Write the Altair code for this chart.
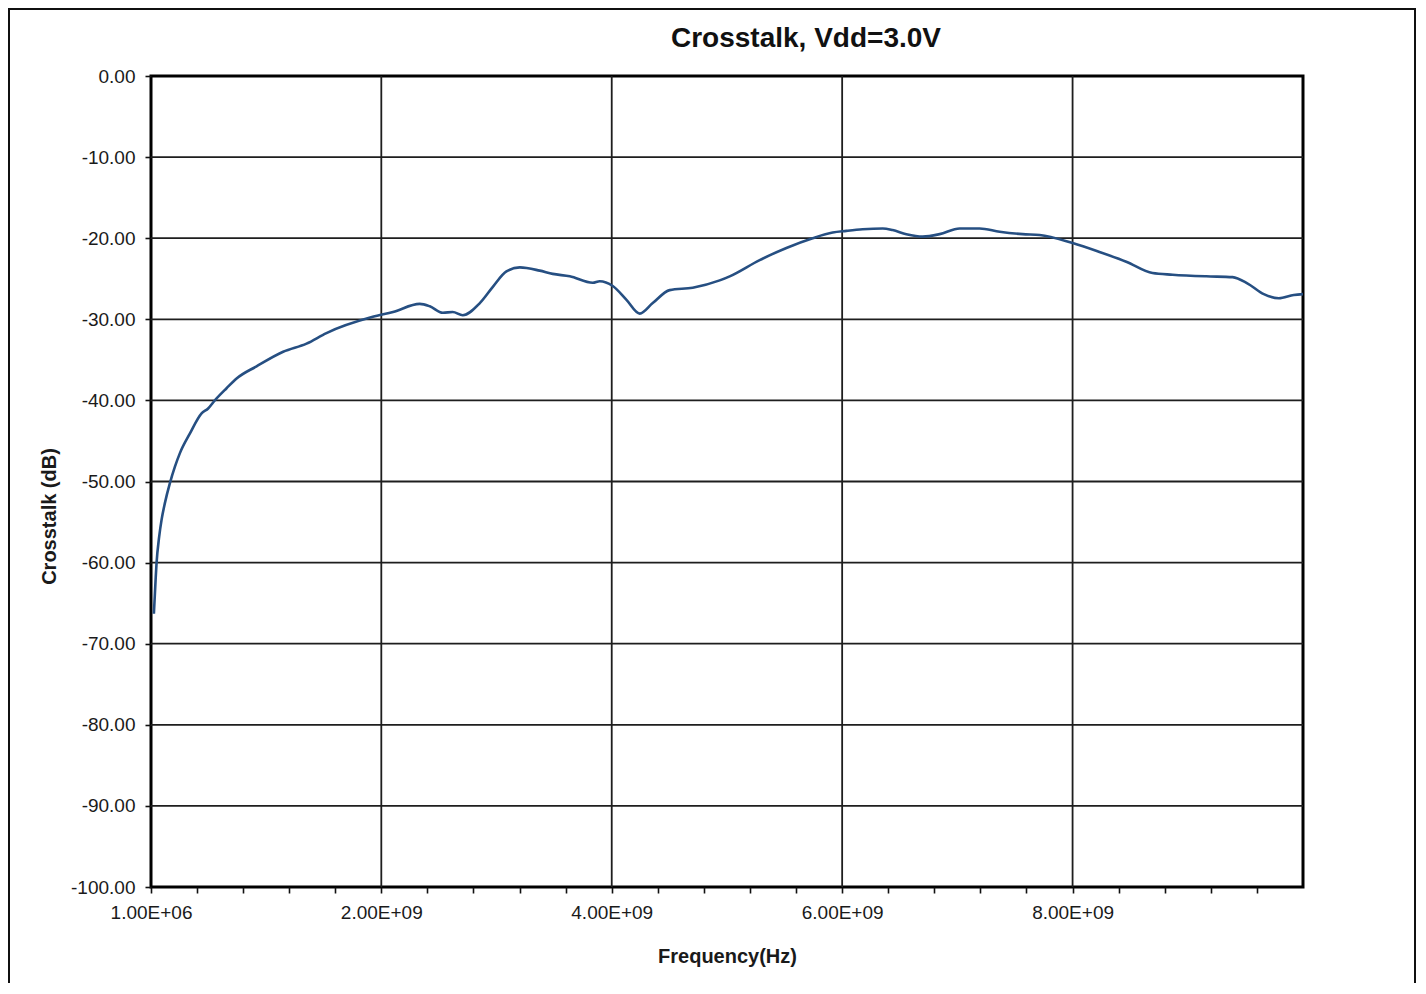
import altair as alt
import pandas as pd

# ---- data ----
freq_ghz = [0.026, 0.041, 0.049, 0.072, 0.093, 0.121, 0.165, 0.208, 0.252, 0.338,
            0.44, 0.497, 0.555, 0.657, 0.744, 0.917, 1.148, 1.351, 1.524, 1.926,
            2.102, 2.334, 2.421, 2.534, 2.62, 2.707, 2.855, 2.968, 3.086, 3.202,
            3.375, 3.488, 3.636, 3.835, 3.896, 4.009, 4.128, 4.243, 4.356, 4.503,
            4.703, 4.937, 5.024, 5.284, 5.516, 5.744, 5.918, 6.036, 6.178, 6.352,
            6.438, 6.557, 6.699, 6.846, 7.02, 7.193, 7.367, 7.566, 7.714, 8.0,
            8.234, 8.466, 8.694, 8.868, 9.16, 9.389, 9.52, 9.66, 9.79, 9.92, 10.0]
crosstalk_db = [-66.3, -62.1, -60.1, -56.8, -54.7, -52.7, -50.2, -48.2, -46.5, -44.1,
                -41.6, -41.0, -40.0, -38.5, -37.3, -35.8, -34.0, -33.0, -31.7, -29.7,
                -29.1, -28.1, -28.4, -29.2, -29.1, -29.5, -28.0, -26.0, -24.1, -23.6,
                -24.0, -24.4, -24.7, -25.5, -25.3, -25.9, -27.6, -29.3, -28.0, -26.4,
                -26.1, -25.2, -24.7, -22.7, -21.2, -20.0, -19.3, -19.1, -18.9, -18.8,
                -19.0, -19.5, -19.8, -19.5, -18.8, -18.8, -19.2, -19.5, -19.6, -20.6,
                -21.7, -22.9, -24.3, -24.5, -24.7, -24.8, -25.6, -26.9, -27.4, -27.0, -26.9]

x_label_values = [1e6, 2e9, 4e9, 6e9, 8e9]
x_labels = ["1.00E+06", "2.00E+09", "4.00E+09", "6.00E+09", "8.00E+09"]
x_tick_values = [1e6] + [k * 4e8 for k in range(1, 25)]
x_grid_values = [2e9, 4e9, 6e9, 8e9]
y_tick_values = [0, -10, -20, -30, -40, -50, -60, -70, -80, -90, -100]
y_grid_values = [-10, -20, -30, -40, -50, -60, -70, -80, -90]

df = pd.DataFrame({"freq": [f * 1e9 for f in freq_ghz], "db": crosstalk_db})
xgrid_df = pd.DataFrame({"freq": x_grid_values})
ygrid_df = pd.DataFrame({"db": y_grid_values})

x_scale = alt.Scale(domain=[1e6, 1e10], nice=False, zero=False)
y_scale = alt.Scale(domain=[-100, 0], nice=False)

label_expr = ""
for v, lab in zip(x_label_values, x_labels):
    label_expr += f"datum.value == {int(v)} ? '{lab}' : "
label_expr += "''"

FONT = "Liberation Sans"
TXT = "#1a1a1a"

x_axis = alt.Axis(
    values=x_tick_values, labelExpr=label_expr, grid=False, domain=False,
    tickColor="#111", tickWidth=1.6, tickSize=6, labelPadding=10,
    labelFont=FONT, labelFontSize=19, labelColor=TXT, labelOverlap=False,
    labelFlush=False,
    title="Frequency(Hz)", titleFont=FONT, titleFontSize=20, titleFontWeight="bold",
    titleColor=TXT, titleY=75, titleBaseline="alphabetic", titleAnchor="middle",
)
y_axis = alt.Axis(
    values=y_tick_values,
    labelExpr="replace(format(datum.value, '.2f'), '\u2212', '-')",
    grid=False, domain=False, tickColor="#111", tickWidth=1.6, tickSize=6,
    labelPadding=10, labelFont=FONT, labelFontSize=19, labelColor=TXT,
    labelOverlap=False, labelFlush=False,
    title="Crosstalk (dB)", titleFont=FONT, titleFontSize=20, titleFontWeight="bold",
    titleColor=TXT, titleAngle=-90, titleX=-96, titleY=440, titleAlign="center",
    titleBaseline="alphabetic",
)

xgrid = alt.Chart(xgrid_df).mark_rule(color="#1e1e1e", strokeWidth=1.8).encode(
    x=alt.X("freq:Q", scale=x_scale, axis=x_axis)
)
ygrid = alt.Chart(ygrid_df).mark_rule(color="#1e1e1e", strokeWidth=1.8).encode(
    y=alt.Y("db:Q", scale=y_scale, axis=y_axis)
)
line = alt.Chart(df).mark_line(color="#264f82", strokeWidth=2.6, interpolate="monotone").encode(
    x=alt.X("freq:Q", scale=x_scale, axis=x_axis),
    y=alt.Y("db:Q", scale=y_scale, axis=y_axis),
)
frame = alt.Chart(ygrid_df).mark_rect(
    fillOpacity=0, stroke="#111", strokeWidth=1.6, clip=False
).encode(
    x=alt.value(-142), x2=alt.value(1264), y=alt.value(-67), y2=alt.value(1000)
)

chart = alt.layer(xgrid, ygrid, line, frame).properties(
    width=1152, height=811,
    autosize=alt.AutoSizeParams(type="none"),
    padding={"left": 143, "top": 68, "right": 115, "bottom": 96},
    background="white",
    title=alt.TitleParams(
        "Crosstalk, Vdd=3.0V", font=FONT, fontSize=28, fontWeight="bold",
        color="#111", anchor="middle", frame="group", dx=79, offset=0, dy=67,
        baseline="alphabetic",
    ),
).configure_view(stroke="#000", strokeWidth=3)

chart.save("out.html", embed_options={"renderer": "svg", "actions": False})
